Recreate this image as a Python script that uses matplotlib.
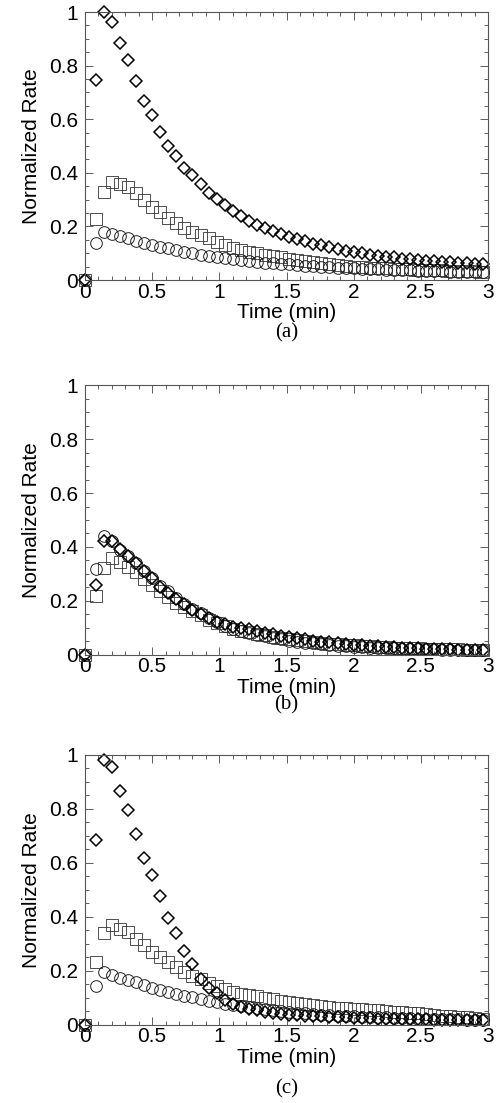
import matplotlib
matplotlib.use("Agg")
import matplotlib.pyplot as plt
from matplotlib.ticker import MultipleLocator

plt.rcParams['font.family'] = ['Liberation Sans', 'DejaVu Sans']

time_min = [0.00, 0.08, 0.14, 0.20, 0.26, 0.32, 0.38, 0.44, 0.50, 0.56,
            0.62, 0.68, 0.74, 0.80, 0.86, 0.92, 0.98, 1.04, 1.10, 1.16,
            1.22, 1.28, 1.34, 1.40, 1.46, 1.52, 1.58, 1.64, 1.70, 1.76,
            1.82, 1.88, 1.94, 2.00, 2.06, 2.12, 2.18, 2.24, 2.30, 2.36,
            2.42, 2.48, 2.54, 2.60, 2.66, 2.72, 2.78, 2.84, 2.90, 2.96]

# Panel (a)
a_diamond = [0, 0.745, 1.0, 0.963, 0.885, 0.82, 0.742, 0.667, 0.614, 0.553,
             0.5, 0.463, 0.419, 0.391, 0.358, 0.325, 0.302, 0.28, 0.258, 0.238,
             0.222, 0.207, 0.195, 0.182, 0.171, 0.161, 0.152, 0.144, 0.136, 0.129,
             0.122, 0.116, 0.11, 0.105, 0.1, 0.095, 0.091, 0.087, 0.084, 0.08,
             0.077, 0.075, 0.072, 0.07, 0.068, 0.066, 0.064, 0.063, 0.061, 0.06]
a_square = [0, 0.228, 0.33, 0.366, 0.357, 0.346, 0.323, 0.299, 0.274, 0.255,
            0.23, 0.211, 0.193, 0.18, 0.168, 0.156, 0.143, 0.131, 0.118, 0.112,
            0.106, 0.1, 0.095, 0.09, 0.085, 0.08, 0.076, 0.071, 0.067, 0.063,
            0.059, 0.056, 0.053, 0.05, 0.048, 0.046, 0.044, 0.043, 0.042, 0.041,
            0.04, 0.039, 0.038, 0.037, 0.036, 0.035, 0.034, 0.033, 0.032, 0.031]
a_circle = [0, 0.137, 0.18, 0.172, 0.163, 0.155, 0.147, 0.139, 0.132, 0.125,
            0.118, 0.112, 0.106, 0.1, 0.095, 0.09, 0.086, 0.082, 0.078, 0.074,
            0.071, 0.068, 0.065, 0.063, 0.06, 0.058, 0.056, 0.054, 0.052, 0.05,
            0.048, 0.046, 0.044, 0.043, 0.042, 0.041, 0.04, 0.039, 0.038, 0.037,
            0.036, 0.035, 0.034, 0.033, 0.032, 0.031, 0.03, 0.03, 0.029, 0.028]

# Panel (b)
b_diamond = [0, 0.26, 0.421, 0.421, 0.393, 0.368, 0.34, 0.312, 0.285, 0.252,
             0.229, 0.207, 0.186, 0.167, 0.151, 0.136, 0.122, 0.112, 0.104, 0.098,
             0.093, 0.087, 0.081, 0.075, 0.07, 0.065, 0.06, 0.056, 0.052, 0.048,
             0.045, 0.042, 0.039, 0.036, 0.034, 0.032, 0.03, 0.028, 0.027, 0.025,
             0.024, 0.023, 0.022, 0.021, 0.02, 0.019, 0.018, 0.018, 0.017, 0.016]
b_square = [0, 0.217, 0.322, 0.359, 0.345, 0.325, 0.305, 0.28, 0.26, 0.235,
            0.212, 0.192, 0.175, 0.16, 0.145, 0.13, 0.118, 0.106, 0.096, 0.088,
            0.082, 0.077, 0.071, 0.066, 0.061, 0.057, 0.053, 0.049, 0.046, 0.043,
            0.04, 0.038, 0.036, 0.034, 0.032, 0.03, 0.029, 0.027, 0.026, 0.025,
            0.024, 0.023, 0.022, 0.021, 0.02, 0.019, 0.019, 0.018, 0.017, 0.017]
b_circle = [0, 0.319, 0.44, 0.421, 0.39, 0.365, 0.34, 0.31, 0.285, 0.256,
            0.235, 0.21, 0.189, 0.171, 0.154, 0.136, 0.12, 0.107, 0.096, 0.087,
            0.08, 0.074, 0.068, 0.062, 0.057, 0.052, 0.048, 0.044, 0.041, 0.038,
            0.035, 0.033, 0.031, 0.029, 0.028, 0.026, 0.025, 0.024, 0.023, 0.022,
            0.021, 0.02, 0.02, 0.019, 0.018, 0.018, 0.017, 0.017, 0.016, 0.016]

# Panel (c)
c_diamond = [0, 0.686, 0.98, 0.955, 0.866, 0.797, 0.708, 0.619, 0.556, 0.475,
             0.397, 0.34, 0.272, 0.224, 0.167, 0.134, 0.118, 0.091, 0.076, 0.064,
             0.058, 0.052, 0.047, 0.043, 0.04, 0.037, 0.035, 0.033, 0.031, 0.03,
             0.028, 0.027, 0.026, 0.025, 0.024, 0.023, 0.022, 0.022, 0.021, 0.02,
             0.02, 0.019, 0.019, 0.018, 0.018, 0.017, 0.017, 0.016, 0.016, 0.015]
c_square = [0, 0.233, 0.338, 0.368, 0.356, 0.344, 0.319, 0.294, 0.27, 0.251,
            0.233, 0.212, 0.196, 0.18, 0.167, 0.155, 0.143, 0.13, 0.122, 0.115,
            0.11, 0.104, 0.098, 0.093, 0.088, 0.083, 0.079, 0.075, 0.072, 0.069,
            0.066, 0.063, 0.061, 0.058, 0.056, 0.054, 0.052, 0.05, 0.048, 0.046,
            0.044, 0.041, 0.038, 0.036, 0.033, 0.031, 0.028, 0.026, 0.023, 0.02]
c_circle = [0, 0.143, 0.195, 0.183, 0.171, 0.164, 0.157, 0.147, 0.136, 0.128,
            0.121, 0.115, 0.107, 0.101, 0.095, 0.088, 0.082, 0.076, 0.071, 0.068,
            0.064, 0.06, 0.056, 0.052, 0.049, 0.046, 0.043, 0.041, 0.039, 0.037,
            0.035, 0.033, 0.031, 0.03, 0.029, 0.028, 0.027, 0.026, 0.025, 0.024,
            0.023, 0.022, 0.021, 0.021, 0.02, 0.019, 0.019, 0.018, 0.018, 0.017]

panels = [("(a)", a_square, a_circle, a_diamond),
          ("(b)", b_square, b_circle, b_diamond),
          ("(c)", c_square, c_circle, c_diamond)]

W, H = 500, 1103
fig = plt.figure(figsize=(W / 100, H / 100), dpi=100)

# axes boxes in pixels: left, top, right, bottom
boxes = [(85, 12, 488, 280), (85, 385.5, 488, 654.5), (85, 755, 488, 1024.5)]
caption_y = [333, 705, 1089]
FS = 15

for (cap, sq, ci, di), (l, t, r, b), cy in zip(panels, boxes, caption_y):
    hpx = b - t
    ax = fig.add_axes([l / W, 1 - b / H, (r - l) / W, hpx / H])
    ax.plot(time_min, sq, linestyle='none', marker='s', ms=8.0, mfc='none',
            mec='#333333', mew=0.6, clip_on=False)
    ax.plot(time_min, ci, linestyle='none', marker='o', ms=8.4, mfc='none',
            mec='#222222', mew=0.7, clip_on=False)
    ax.plot(time_min, di, linestyle='none', marker='D', ms=5.8, mfc='none',
            mec='black', mew=1.1, clip_on=False)
    ax.set_xlim(0, 3)
    ax.set_ylim(0, 1)
    ax.xaxis.set_minor_locator(MultipleLocator(0.1))
    ax.yaxis.set_minor_locator(MultipleLocator(0.05))
    ax.set_xticks([0, 0.5, 1, 1.5, 2, 2.5, 3])
    ax.set_xticklabels(['0', '0.5', '1', '1.5', '2', '2.5', '3'])
    ax.set_yticks([0, 0.2, 0.4, 0.6, 0.8, 1.0])
    ax.set_yticklabels(['0', '0.2', '0.4', '0.6', '0.8', '1'])
    ax.tick_params(which='both', direction='in', top=True, right=True,
                   width=0.6, color='#444444')
    ax.tick_params(which='major', length=6, labelsize=FS)
    ax.tick_params(axis='x', which='major', pad=2)
    ax.tick_params(axis='y', which='major', pad=5)
    ax.tick_params(which='minor', length=3)
    for s in ax.spines.values():
        s.set_linewidth(0.8)
        s.set_color('#555555')
    ax.set_ylabel('Normalized Rate', fontsize=FS, labelpad=6)
    ax.set_xlabel('Time (min)', fontsize=FS, va='top')
    ax.xaxis.set_label_coords(0.5, -23.5 / hpx)
    fig.text(((l + r) / 2) / W, 1 - cy / H, cap, ha='center', va='center',
             fontsize=FS, family=['Liberation Serif', 'DejaVu Serif'])

fig.savefig('out.png', dpi=100)
